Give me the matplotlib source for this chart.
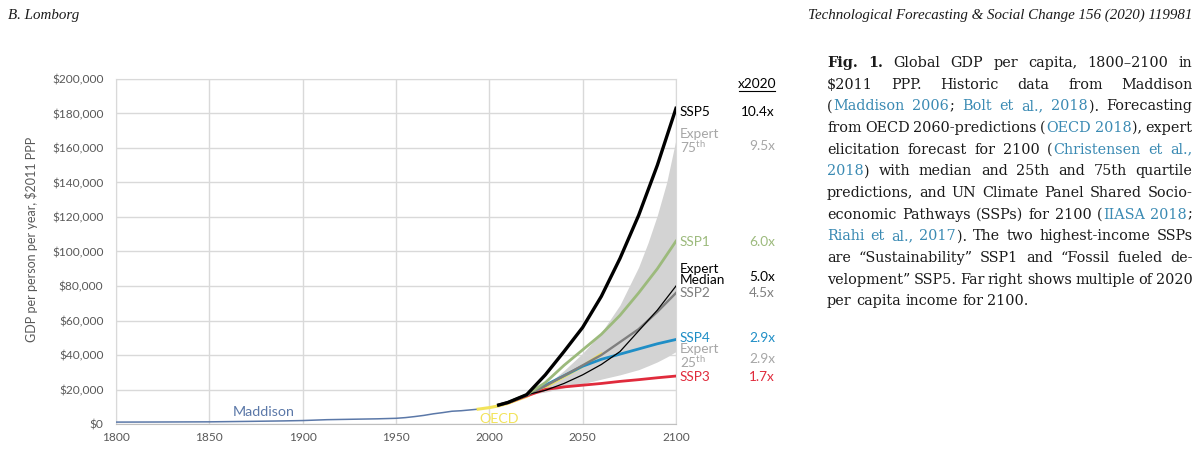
import matplotlib
matplotlib.use("Agg")
import matplotlib.pyplot as plt
from matplotlib.ticker import FuncFormatter
from matplotlib.lines import Line2D
from matplotlib.transforms import IdentityTransform

plt.rcParams['font.family'] = ['Lato', 'DejaVu Sans']
plt.rcParams['mathtext.fontset'] = 'custom'
plt.rcParams['mathtext.rm'] = 'Lato'

# historic data (Maddison)
maddison_years = [1800, 1820, 1850, 1870, 1890, 1900, 1913, 1929, 1940, 1950,
                  1955, 1960, 1965, 1970, 1975, 1980, 1985, 1990, 1994]
maddison_gdp = [1100, 1150, 1250, 1500, 1800, 2000, 2500, 2800, 3000, 3300,
                3700, 4300, 5000, 5900, 6600, 7400, 7700, 8200, 8600]

# OECD 2060 predictions
oecd_years = [1994, 2000, 2005, 2010, 2020, 2030, 2040, 2050, 2060]
oecd_gdp = [8600, 9500, 10500, 12000, 16000, 21500, 27500, 33500, 40500]

# SSP scenarios
ssp_years = [2005, 2010, 2020, 2030, 2040, 2050, 2060, 2070, 2080, 2090, 2100]
ssp5 = [11000, 12500, 17000, 28500, 42000, 56000, 74000, 96000, 121000, 150000, 183000]
ssp1 = [11000, 12500, 17000, 24000, 34000, 43000, 52000, 63000, 76000, 90000, 106000]
ssp2 = [11000, 12500, 16800, 22000, 28000, 34000, 40000, 47500, 55000, 65000, 76000]
ssp4 = [11000, 12500, 16800, 22500, 28000, 33500, 37500, 40500, 43500, 46500, 49000]
ssp3 = [11000, 12300, 16300, 20000, 21500, 22500, 23500, 24700, 25700, 26800, 27800]

# expert elicitation
median_years = [2020, 2030, 2040, 2050, 2060, 2070, 2080, 2090, 2100]
expert_median = [17000, 19500, 23500, 28500, 34500, 42000, 54000, 66000, 80000]
band_years = [2020, 2030, 2040, 2050, 2060, 2070, 2080, 2085, 2090, 2095, 2100]
expert_75 = [17000, 22000, 31000, 41000, 53000, 69000, 91000, 105000, 121000, 140000, 165000]
expert_25 = [17000, 18500, 21000, 23300, 26000, 28500, 31500, 33700, 36000, 38800, 42000]

# right-hand labels and multiples of 2020
end_labels = ["SSP5", "Expert\n75$^{\\rm th}$", "SSP1", "Expert\nMedian", "SSP2",
              "SSP4", "Expert\n25$^{\\rm th}$", "SSP3"]
multiples = ["10.4x", "9.5x", "6.0x", "5.0x", "4.5x", "2.9x", "2.9x", "1.7x"]

caption = [
    "*Fig.* *1.* Global GDP per capita, 1800–2100 in",
    "$2011 PPP. Historic data from Maddison",
    "({Maddison 2006}; {Bolt et al., 2018}). Forecasting",
    "from OECD 2060-predictions ({OECD 2018}), expert",
    "elicitation forecast for 2100 ({Christensen et al.,}",
    "{2018}) with median and 25th and 75th quartile",
    "predictions, and UN Climate Panel Shared Socio-",
    "economic Pathways (SSPs) for 2100 ({IIASA 2018};",
    "{Riahi et al., 2017}). The two highest-income SSPs",
    "are “Sustainability” SSP1 and “Fossil fueled de-",
    "velopment” SSP5. Far right shows multiple of 2020",
    "per capita income for 2100.",
]

c_black = "#000000"
c_green = "#9cba7c"
c_gray = "#7f7f7f"
c_light = "#a6a6a6"
c_blue = "#1f8ec6"
c_red = "#e02b3c"
c_yellow = "#f2e35a"
c_madd = "#5b78a8"

W, H = 1200, 465
fig = plt.figure(figsize=(12, 4.65), dpi=100)
ax = fig.add_axes([116 / W, (H - 424) / H, 560 / W, 345 / H])

ax.fill_between(band_years, expert_25, expert_75, color="#d3d3d3", lw=0, zorder=1)
ax.plot(maddison_years, maddison_gdp, color=c_madd, lw=1.1, zorder=3)
ax.plot(oecd_years, oecd_gdp, color=c_yellow, lw=2.2, zorder=3)
ax.plot(ssp_years, ssp3, color=c_red, lw=2.0, zorder=4)
ax.plot(ssp_years, ssp4, color=c_blue, lw=2.0, zorder=4)
ax.plot(ssp_years, ssp2, color=c_gray, lw=1.7, zorder=4)
ax.plot(median_years, expert_median, color=c_black, lw=0.9, zorder=5)
ax.plot(ssp_years, ssp1, color=c_green, lw=2.0, zorder=5)
ax.plot(ssp_years, ssp5, color=c_black, lw=2.4, zorder=6)

ax.set_xlim(1800, 2100)
ax.set_ylim(0, 200000)
ax.set_xticks(range(1800, 2101, 50))
ax.set_yticks(range(0, 200001, 20000))
ax.yaxis.set_major_formatter(FuncFormatter(lambda v, p: f"${v:,.0f}"))
ax.grid(color="#d9d9d9", lw=1)
ax.set_axisbelow(True)
for s in ax.spines.values():
    s.set_color("#d9d9d9")
ax.spines["bottom"].set_color("#bfbfbf")
ax.tick_params(length=0, labelsize=8.6, labelcolor="#595959")
ax.tick_params(axis="y", pad=9)
ax.tick_params(axis="x", pad=6)

ax.text(1879, 7000, "Maddison", color=c_madd, fontsize=10.3, ha="center", va="center")
ax.text(2005, 3000, "OECD", color=c_yellow, fontsize=10.3, ha="center", va="center")

fig.text(32 / W, 1 - 239 / H, "GDP per person per year, $2011 PPP", rotation=90,
         ha="center", va="center", fontsize=9.0, color="#595959")

# labels at the right end of the lines
label_colors = [c_black, c_light, c_green, c_black, c_gray, c_blue, c_light, c_red]
label_y = [111.5, 141.5, 241.7, 274.5, 293, 338, 356.5, 377]
mult_y = [111.5, 146, 241.7, 277, 293, 338, 359, 377]
for lab, mult, col, ly, my in zip(end_labels, multiples, label_colors, label_y, mult_y):
    fig.text(680 / W, 1 - ly / H, lab, color=col, fontsize=9.8, ha="left", va="center",
             linespacing=0.95)
    fig.text(775 / W, 1 - my / H, mult, color=col, fontsize=9.8, ha="right", va="center")
fig.text(757 / W, 1 - 84 / H, "x2020", color=c_black, fontsize=9.8, ha="center", va="center")
fig.add_artist(Line2D([739 / W, 775 / W], [1 - 91 / H, 1 - 91 / H], color="black", lw=0.8))

# header and caption
renderer = fig.canvas.get_renderer()
px = IdentityTransform()


def text_width(text, family, size, style="normal"):
    t = fig.text(0, 0, text, fontsize=size, family=family, style=style, transform=px)
    w = t.get_window_extent(renderer).width
    t.remove()
    return w


head = "Technological Forecasting & Social Change 156 (2020) 119981"
head_fs = 10 * 387 / text_width(head, "Liberation Serif", 10, "italic")
fig.text(8, H - 19, "B. Lomborg", family="Liberation Serif", style="italic",
         fontsize=head_fs, transform=px, color="#1a1a1a")
fig.text(1192, H - 19, head, family="Liberation Serif", style="italic",
         fontsize=head_fs, transform=px, ha="right", color="#1a1a1a")

cap_fs = 10 * 203 / text_width("per capita income for 2100.", "DejaVu Serif", 10)
space = text_width("a a", "DejaVu Serif", cap_fs) - text_width("aa", "DejaVu Serif", cap_fs)
link = "#3a8ab3"
ink = "#1a1a1a"


def parse(line):
    words = [[]]
    blue = bold = False
    buf = ""
    for ch in line:
        if ch in "{}* ":
            if buf:
                words[-1].append((buf, blue, bold))
                buf = ""
            if ch == "{":
                blue = True
            elif ch == "}":
                blue = False
            elif ch == "*":
                bold = not bold
            else:
                words.append([])
        else:
            buf += ch
    if buf:
        words[-1].append((buf, blue, bold))
    return [w for w in words if w]


x0, x1 = 827, 1193
for i, line in enumerate(caption):
    words = parse(line)
    base = H - (62 + 21.67 * i + 5)
    items = []
    total = 0
    for word in words:
        parts = []
        for txt, blue, bold in word:
            t = fig.text(0, base, txt, family="DejaVu Serif", fontsize=cap_fs,
                         weight="bold" if bold else "normal",
                         color=link if blue else ink, transform=px)
            w = t.get_window_extent(renderer).width
            parts.append((t, w))
            total += w + 0.5
        items.append(parts)
    if i < len(caption) - 1:
        gap = (x1 - x0 - total) / (len(items) - 1)
    else:
        gap = space * 0.85
    x = x0
    for parts in items:
        for t, w in parts:
            t.set_position((x, base))
            x += w + 0.5
        x += gap

fig.savefig("out.png", dpi=100)
